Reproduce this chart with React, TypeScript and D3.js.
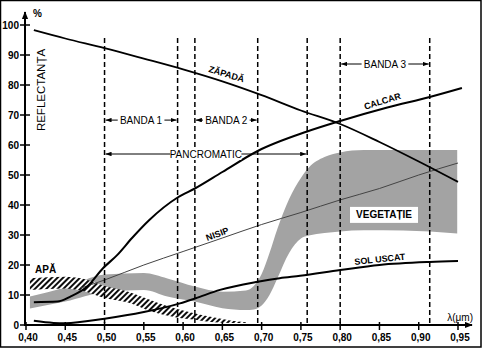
import * as d3 from 'd3';

const W = 482;
const H = 351;

// axis ticks
const xTicks = [0.4, 0.45, 0.5, 0.55, 0.6, 0.65, 0.7, 0.75, 0.8, 0.85, 0.9, 0.95];
const yTicks = [0, 10, 20, 30, 40, 50, 60, 70, 80, 90, 100];

// reflectance curves (wavelength in µm, reflectance in %)
const snowWl = [0.41, 0.45, 0.5, 0.55, 0.6, 0.65, 0.7, 0.75, 0.8, 0.85, 0.9, 0.95];
const snow = [98.3, 95.5, 92.3, 88.8, 85.2, 81.2, 76.6, 71.5, 67, 61, 54.5, 47.7];

const calcarWl = [0.41, 0.44, 0.456, 0.478, 0.498, 0.516, 0.535, 0.557, 0.593, 0.615, 0.65, 0.695, 0.758, 0.8, 0.86, 0.914, 0.955];
const calcar = [7.6, 7.8, 9.4, 12.8, 18.9, 23.3, 29, 35, 42.5, 45.5, 51, 58, 64.5, 68, 72.5, 76, 79];

const soilWl = [0.41, 0.435, 0.45, 0.5, 0.55, 0.596, 0.616, 0.647, 0.695, 0.723, 0.749, 0.8, 0.85, 0.914, 0.95];
const soil = [1.4, 0.7, 0.6, 2.1, 4.3, 7.2, 8.9, 11.7, 14.4, 15.6, 16.4, 18.3, 20, 21, 21.3];

const sandWl = [0.47, 0.5, 0.55, 0.6, 0.65, 0.7, 0.75, 0.8, 0.85, 0.9, 0.95];
const sand = [12.3, 15, 20, 24.5, 29, 33.5, 37.5, 41.7, 45.5, 50, 54];

const vegWl = [0.405, 0.45, 0.5, 0.55, 0.58, 0.615, 0.65, 0.68, 0.69, 0.7, 0.71, 0.72, 0.735, 0.75, 0.76, 0.78, 0.8, 0.83, 0.88, 0.949];
const vegUpper = [9.5, 12.5, 16.8, 17.3, 15.5, 12.8, 11.1, 11.5, 13, 17, 24, 32, 42, 49, 52.5, 56, 57.5, 58.3, 58.3, 58.3];
const vegLower = [5.5, 7.8, 11, 11.7, 9.5, 7.8, 5.6, 5.0, 5.2, 6.5, 10, 15.5, 24, 28.8, 29.8, 30.7, 31.2, 31.6, 31.5, 30.5];

const waterWl = [0.405, 0.45, 0.47, 0.5, 0.53, 0.56, 0.59, 0.61, 0.64, 0.66, 0.68];
const waterUpper = [15.6, 16.1, 15.6, 13, 11.1, 8.2, 5.5, 4.2, 2.5, 1.5, 0.9];
const waterLower = [11.7, 12.2, 11.5, 9, 7.5, 4.5, 2.6, 1.9, 0.9, 0.7, 0.7];

// band limits (dashed lines) and the bracket annotations
const bandEdges = [0.5, 0.593, 0.615, 0.695, 0.758, 0.8, 0.914];
const bandNames = ['BANDA 1', 'BANDA 2', 'PANCROMATIC', 'BANDA 3'];
const bandFrom = [0.5, 0.615, 0.5, 0.8];
const bandTo = [0.593, 0.695, 0.758, 0.914];
const bandLevel = [68.3, 68.3, 57, 87];

const FONT = '"Liberation Sans", Arial, sans-serif';

export default function App() {
    const x = d3.scaleLinear().domain([0.4, 0.95]).range([26, 458]);
    const y = d3.scaleLinear().domain([0, 100]).range([325, 25]);

    const line = (wl: number[], v: number[]) =>
        d3
            .line<number>()
            .x((_, i) => x(wl[i]))
            .y((d) => y(d))
            .curve(d3.curveMonotoneX)(v) ?? '';

    const band = (wl: number[], lo: number[], hi: number[]) =>
        d3
            .area<number>()
            .x((_, i) => x(wl[i]))
            .y0((_, i) => y(lo[i]))
            .y1((d) => y(d))
            .curve(d3.curveMonotoneX)(hi) ?? '';

    const x0 = x(0.4) - 1;
    const y0 = y(0);
    const dashTop = 38;

    // label sitting just above a curve, rotated with it
    const label = (text: string, wl: number, v: number, angle: number, size = 9, lift = 2) => (
        <text
            transform={`translate(${x(wl)},${y(v)}) rotate(${angle})`}
            y={-lift}
            textAnchor="middle"
            fontSize={size}
            fontWeight="bold"
            fontFamily={FONT}
            dy="0.35em"
        >
            {text}
        </text>
    );

    return (
        <svg
            width={W}
            height={H}
            viewBox={`0 0 ${W} ${H}`}
            style={{ position: 'absolute', left: 0, top: 0, background: '#fff' }}
        >
            <defs>
                <pattern id="hatch" width="4" height="4" patternUnits="userSpaceOnUse" patternTransform="rotate(45)">
                    <rect width="4" height="4" fill="#fff" />
                    <line x1="1" y1="0" x2="1" y2="4" stroke="#000" strokeWidth="1.9" />
                </pattern>
                <marker id="arr" viewBox="0 0 8 6" refX="8" refY="3" markerWidth="6" markerHeight="4.5" orient="auto-start-reverse" markerUnits="userSpaceOnUse">
                    <path d="M0,0 L8,3 L0,6 z" fill="#000" />
                </marker>
                <marker id="axarr" viewBox="0 0 10 8" refX="9" refY="4" markerWidth="8" markerHeight="7" orient="auto" markerUnits="userSpaceOnUse">
                    <path d="M0,0 L10,4 L0,8 z" fill="#000" />
                </marker>
            </defs>

            <rect x={0.5} y={0.5} width={480.5} height={346.5} fill="#fff" stroke="#000" strokeWidth={1.5} />

            {/* vegetation and water bands */}
            <path d={band(vegWl, vegLower, vegUpper)} fill="#a3a3a3" />
            <path d={band(waterWl, waterLower, waterUpper)} fill="url(#hatch)" />

            {/* curves */}
            <path d={line(sandWl, sand)} fill="none" stroke="#444" strokeWidth={1} />
            <path d={line(soilWl, soil)} fill="none" stroke="#000" strokeWidth={2} />
            <path d={line(snowWl, snow)} fill="none" stroke="#000" strokeWidth={1.8} />
            <path d={line(calcarWl, calcar)} fill="none" stroke="#000" strokeWidth={2} />

            {/* band limits */}
            {bandEdges.map((b) => (
                <line key={b} x1={x(b)} x2={x(b)} y1={dashTop} y2={y0} stroke="#000" strokeWidth={1.5} strokeDasharray="5,3" />
            ))}

            {bandNames.map((name, i) => {
                const a = x(bandFrom[i]);
                const b = x(bandTo[i]);
                const yy = y(bandLevel[i]);
                const tw = name.length * 6.1 + 4;
                const cx = (a + b) / 2;
                return (
                    <g key={name}>
                        <line x1={a + 1} x2={b - 1} y1={yy} y2={yy} stroke="#000" strokeWidth={1} markerStart="url(#arr)" markerEnd="url(#arr)" />
                        <rect x={cx - tw / 2} y={yy - 6} width={tw} height={12} fill="#fff" />
                        <text x={cx} y={yy} dy="0.35em" textAnchor="middle" fontSize={10} fontFamily={FONT}>
                            {name}
                        </text>
                    </g>
                );
            })}

            {/* curve labels */}
            {label('ZĂPADĂ', 0.6546, 83, 17)}
            {label('CALCAR', 0.8545, 74, -17)}
            {label('NISIP', 0.6444, 29.7, -20)}
            {label('SOL USCAT', 0.8507, 21.3, -6)}
            <text x={x(0.4115)} y={y(17.3)} fontSize={10} fontWeight="bold" fontFamily={FONT}>
                APĂ
            </text>
            <rect x={x(0.8558) - 34} y={y(36.7) - 8} width={68} height={16} fill="#fff" />
            {label('VEGETAȚIE', 0.8558, 36.7, 0, 10, 0)}

            {/* axes */}
            <line x1={x0} x2={x0} y1={y0 + 1} y2={12} stroke="#000" strokeWidth={2} markerEnd="url(#axarr)" />
            <line x1={x0 - 1} x2={472} y1={y0} y2={y0} stroke="#000" strokeWidth={2} markerEnd="url(#axarr)" />

            {yTicks.map((t) => (
                <g key={t}>
                    <line x1={x0 - 5} x2={x0 + 5} y1={y(t)} y2={y(t)} stroke="#000" strokeWidth={1.5} />
                    <text x={x0 - 6} y={y(t)} dy="0.35em" textAnchor="end" fontSize={10} fontWeight="bold" fontFamily={FONT}>
                        {t}
                    </text>
                </g>
            ))}
            {xTicks.map((t) => (
                <g key={t}>
                    <line x1={x(t)} x2={x(t)} y1={y0 - 3} y2={y0 + 5} stroke="#000" strokeWidth={1.5} />
                    <text x={x(t) + 2} y={341} textAnchor="middle" fontSize={10} fontWeight="bold" fontFamily={FONT}>
                        {d3.format('.2f')(t).replace('.', ',')}
                    </text>
                </g>
            ))}

            <text x={33} y={17} fontSize={10} fontWeight="bold" fontFamily={FONT}>
                %
            </text>
            <text transform="translate(41,90) rotate(-90)" textAnchor="middle" dy="0.35em" fontSize={11.5} fontFamily={FONT}>
                REFLECTANȚA
            </text>
            <text x={473} y={321} textAnchor="end" fontSize={10} fontFamily={FONT}>
                λ(μm)
            </text>
        </svg>
    );
}
